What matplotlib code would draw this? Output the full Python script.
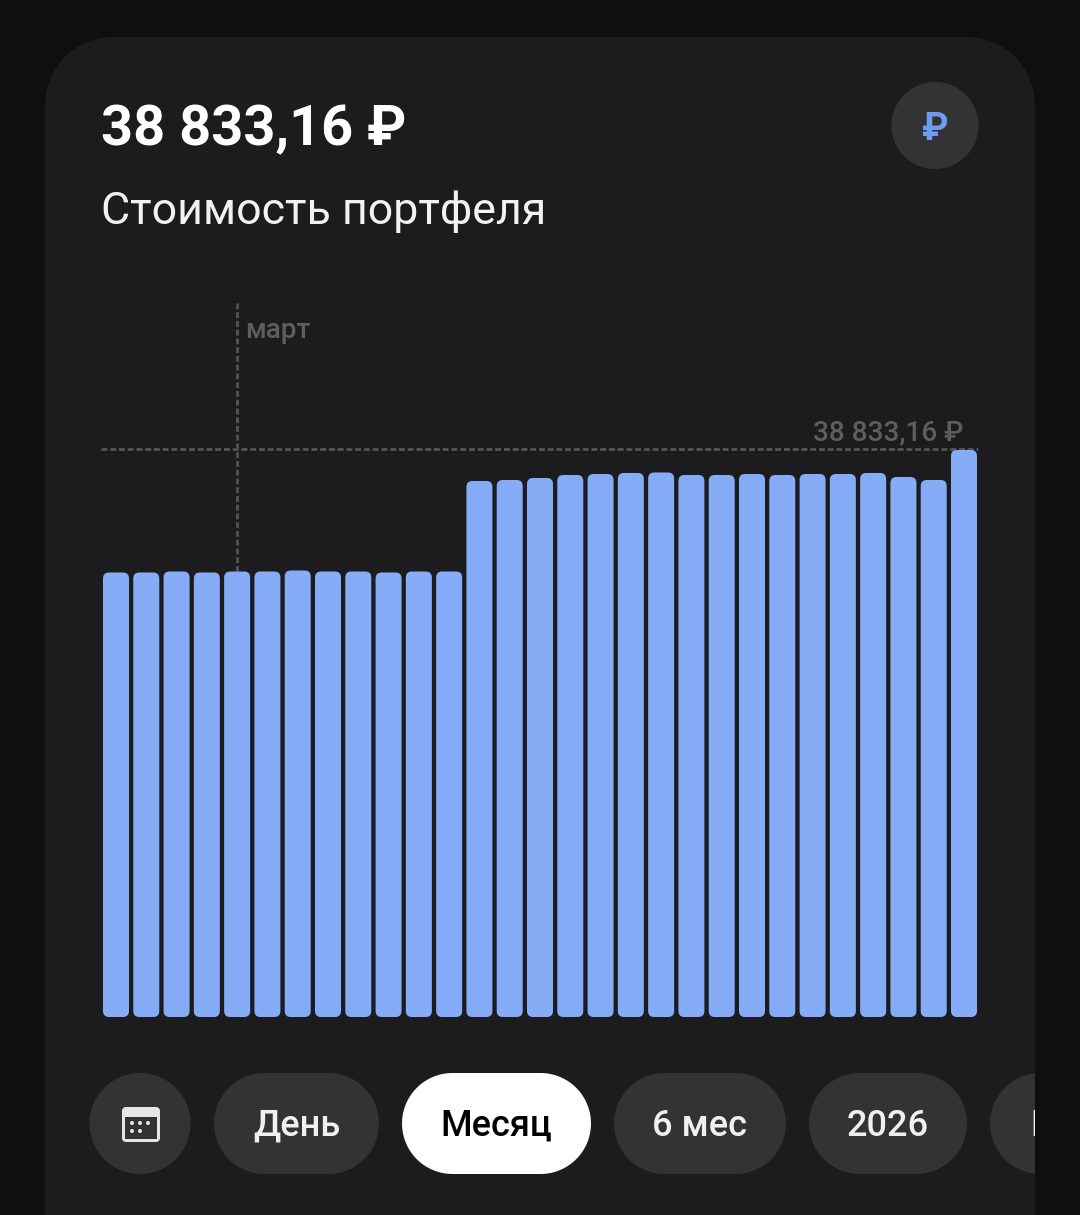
import matplotlib
matplotlib.use("Agg")
import numpy as np
import matplotlib.pyplot as plt
from matplotlib.patches import Circle, FancyBboxPatch, Polygon, Rectangle

plt.rcParams["font.family"] = ["Roboto", "DejaVu Sans"]

# values, the last one is the printed total
portfolio = [
    30444, 30444, 30512, 30444, 30512, 30512, 30580, 30512, 30512, 30444, 30512, 30512,
    36711, 36779, 36916, 37122, 37190, 37259, 37293, 37122, 37122, 37190, 37122, 37190,
    37190, 37259, 36985, 36779, 38833.16,
]
total_label = "38 833,16 ₽"
subtitle = "Стоимость портфеля"
month_label = "март"
month_index = 4
periods = ["День", "Месяц", "6 мес", "2026", "Всё"]
active_period = "Месяц"

W, H = 1080, 1215
BG = "#0f0f10"
CARD = "#1c1c1e"
CHIP = "#333335"
BAR = "#86abf7"
GUIDE = "#525254"
MUTED = "#5e5e60"


def round_rect(ax, x0, x1, y0, y1, r, color):
    # true circular corners, FancyBboxPatch corners come out too square at this size
    t = np.linspace(0, np.pi / 2, 24)
    xs, ys = [], []
    for cx, cy, start in [
        (x1 - r, y1 - r, 0),
        (x0 + r, y1 - r, np.pi / 2),
        (x0 + r, y0 + r, np.pi),
        (x1 - r, y0 + r, 3 * np.pi / 2),
    ]:
        xs.extend(cx + r * np.cos(t + start))
        ys.extend(cy + r * np.sin(t + start))
    p = Polygon(np.column_stack([xs, ys]), closed=True, fc=color, ec="none")
    ax.add_patch(p)
    return p


fig = plt.figure(figsize=(W / 100, H / 100), dpi=100, facecolor=BG)

# screen layer in pixels, y going down like the screenshot
bg = fig.add_axes([0, 0, 1, 1])
bg.set_xlim(0, W)
bg.set_ylim(H, 0)
bg.axis("off")

round_rect(bg, 45, 1035, 37, 1600, 68, CARD)
clip_rect = Rectangle((0, 0), 1035, H, transform=bg.transData)

bg.text(101, 124.5, total_label, color="white", fontsize=40.2, fontweight="bold", va="center_baseline")
bg.text(101, 207, subtitle, color="#f2f2f2", fontsize=32.2, va="center_baseline")

bg.add_patch(Circle((935, 125.5), 43.5, fc=CHIP, ec="none"))
bg.text(935, 125, "₽", color="#6f9cf0", fontsize=27, fontweight="bold", ha="center", va="center_baseline")

# bars, in their own axes: x is the day index, y the portfolio value
x0, x1 = 103, 977
y_top, y_base = 450, 1017
step = (x1 - x0 - 26) / (len(portfolio) - 1)
scale = portfolio[-1] / (y_base - y_top)
left = x0 + 13 - step / 2
right = x1 - 13 + step / 2
ax = fig.add_axes([left / W, 1 - y_base / H, (right - left) / W, (y_base - y_top) / H])
ax.set_xlim(-0.5, len(portfolio) - 0.5)
ax.set_ylim(0, portfolio[-1])
ax.axis("off")
ax.patch.set_alpha(0)

width = 26 / step
r_x = 6 / step
for i, v in enumerate(portfolio):
    ax.add_patch(
        FancyBboxPatch(
            (i - width / 2 + r_x, 6 * scale), width - 2 * r_x, v - 12 * scale,
            boxstyle=f"round,pad={r_x},rounding_size={r_x}",
            mutation_aspect=step * scale, fc=BAR, ec="none", clip_on=False,
        )
    )

# guides
dash = (0, (2, 1))
bg.plot([101, 978], [448.5, 448.5], color=GUIDE, lw=2.1, ls=dash)
guide_x = left + (month_index + 0.5) * step
bg.plot([guide_x, guide_x], [303, 571], color=GUIDE, lw=2.1, ls=dash)
bg.text(guide_x + 8, 327, month_label, color=MUTED, fontsize=20, fontweight="medium", va="center_baseline")
bg.text(963, 429.5, total_label, color=MUTED, fontsize=20.2, fontweight="medium", ha="right", va="center_baseline")

# period buttons
bg.add_patch(Circle((140, 1123.5), 50.5, fc=CHIP, ec="none"))
round_rect(bg, 122, 160, 1107, 1142, 4, "#e6e6e6")
bg.add_patch(Rectangle((125, 1117), 32, 22, fc=CHIP, ec="none"))
for dx, dy in [(132, 1123), (140, 1123), (148, 1123), (132, 1131), (140, 1131)]:
    bg.add_patch(Circle((dx, dy), 2, fc="#e6e6e6", ec="none"))

spans = [(214, 379), (402, 591), (614, 786), (809, 967), (990, 1110)]
for label, (a, b) in zip(periods, spans):
    on = label == active_period
    p = round_rect(bg, a, b, 1073, 1174, 50.5, "white" if on else CHIP)
    p.set_clip_path(clip_rect)
    if label == periods[-1]:
        t = bg.text(1030, 1122, label, color="#f0f0f0", fontsize=26, fontweight="medium", va="center_baseline")
        t.set_clip_on(True)
        t.set_clip_path(clip_rect)
    else:
        bg.text(
            (a + b) / 2, 1122, label, color="black" if on else "#f0f0f0",
            fontsize=26, fontweight="medium", ha="center", va="center_baseline",
        )

fig.savefig("out.png", dpi=100, facecolor=BG)
